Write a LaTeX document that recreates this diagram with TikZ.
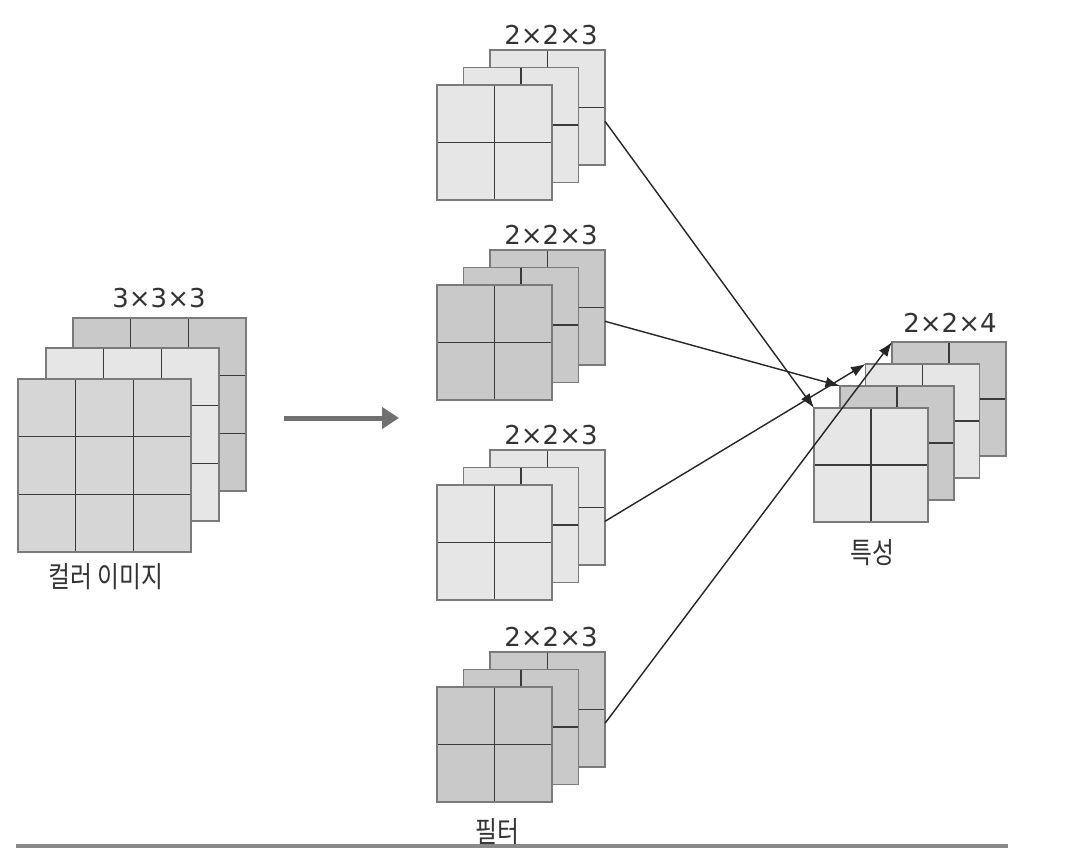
\documentclass[tikz,border=0pt]{standalone}
\usepackage{fontspec}
\setmainfont{DejaVu Sans}
\newfontfamily\kr[FakeStretch=0.82]{Noto Sans CJK KR}
\usetikzlibrary{arrows.meta,calc}

\definecolor{cellLight}{HTML}{E6E6E6}
\definecolor{cellMid}{HTML}{D6D6D6}
\definecolor{cellDark}{HTML}{C9C9C9}
\definecolor{edgeGray}{HTML}{7A7A7A}
\definecolor{gridInk}{HTML}{3A3A3A}
\definecolor{textInk}{HTML}{333333}
\definecolor{bigArrow}{HTML}{707070}
\definecolor{ruleGray}{HTML}{8A8A8A}

\tikzset{
  layerbox/.style={inner sep=0pt, outer sep=0pt, anchor=north west},
  gridline/.style={draw=gridInk, line width=0.8pt},
  layeredge/.style={draw=edgeGray, line width=1.1pt},
  dimlabel/.style={text=textInk, font=\fontsize{14.8pt}{16pt}\selectfont, inner sep=0pt},
  krlabel/.style={text=textInk, font=\kr\fontsize{16.5pt}{18pt}\selectfont, inner sep=0pt},
  feed/.style={draw=black!85, line width=0.8pt, -{Latex[length=2.9mm,width=2.1mm]}},
}

% \gridlayer{name}{x}{y}{size in px}{cut fractions}{fill}
\newcommand\gridlayer[6]{%
  \node[layerbox, fill=#6, minimum width=#4*0.02cm, minimum height=#4*0.02cm] (#1) at (#2,#3) {};
  \foreach \t in {#5} {
    \draw[gridline] ($(#1.north west)!\t!(#1.north east)$) -- ($(#1.south west)!\t!(#1.south east)$);
    \draw[gridline] ($(#1.north west)!\t!(#1.south west)$) -- ($(#1.north east)!\t!(#1.south east)$);
  }
  \draw[layeredge] (#1.north west) rectangle (#1.south east);
}

% one 2x2x3 filter stack, front layer top-left at (437,#2)
\newcommand\filterstack[3]{%
  \gridlayer{#1c}{490}{#2-35}{115}{1/2}{#3}
  \gridlayer{#1b}{463.5}{#2-17.5}{115}{1/2}{#3}
  \gridlayer{#1a}{437}{#2}{115}{1/2}{#3}
  \coordinate (#1out) at ($(#1c.north east)!0.62!(#1c.south east)$);
}

\begin{document}
\begin{tikzpicture}[x=0.02cm, y=-0.02cm]
  \fill[white] (0,0) rectangle (1086,848);
  \useasboundingbox (0,0) rectangle (1086,848);

  % colour image, 3x3x3
  \gridlayer{img3}{73}{318}{173}{1/3,2/3}{cellDark}
  \gridlayer{img2}{46}{348}{173}{1/3,2/3}{cellLight}
  \gridlayer{img1}{18}{379}{173}{1/3,2/3}{cellMid}
  \node[dimlabel] (imgdim) at (159,298) {3×3×3};
  \node[krlabel] (imgname) at (106,577) {컬러 이미지};

  % convolution arrow
  \coordinate (convA) at (284,418);
  \coordinate (convB) at (399,418);
  \draw[bigArrow, line width=0.1cm, -{Triangle[length=0.34cm,width=0.42cm]}] (convA) -- (convB);

  % four filters
  \filterstack{fa}{85}{cellLight}
  \filterstack{fb}{285}{cellDark}
  \filterstack{fc}{485}{cellLight}
  \filterstack{fd}{687}{cellDark}
  \node[dimlabel] (fadim) at (551,35) {2×2×3};
  \node[dimlabel] (fbdim) at (551,235) {2×2×3};
  \node[dimlabel] (fcdim) at (551,435) {2×2×3};
  \node[dimlabel] (fddim) at (551,637) {2×2×3};
  \node[krlabel] (filtname) at (497,832) {필터};

  % feature map, 2x2x4
  \gridlayer{map4}{892}{342}{114}{1/2}{cellDark}
  \gridlayer{map3}{865.5}{364}{114}{1/2}{cellLight}
  \gridlayer{map2}{840}{386}{114}{1/2}{cellDark}
  \gridlayer{map1}{814}{408}{114}{1/2}{cellLight}
  \node[dimlabel] (mapdim) at (950,323) {2×2×4};
  \node[krlabel] (mapname) at (872,553) {특성};

  % each filter yields one feature layer
  \draw[feed] (faout) -- (map1.north west);
  \draw[feed] (fbout) -- (map2.north west);
  \draw[feed] (fcout) -- (map3.north west);
  \draw[feed] (fdout) -- (map4.north west);

  % bottom rule
  \fill[ruleGray] (16,844) rectangle (1008,848);
\end{tikzpicture}
\end{document}
